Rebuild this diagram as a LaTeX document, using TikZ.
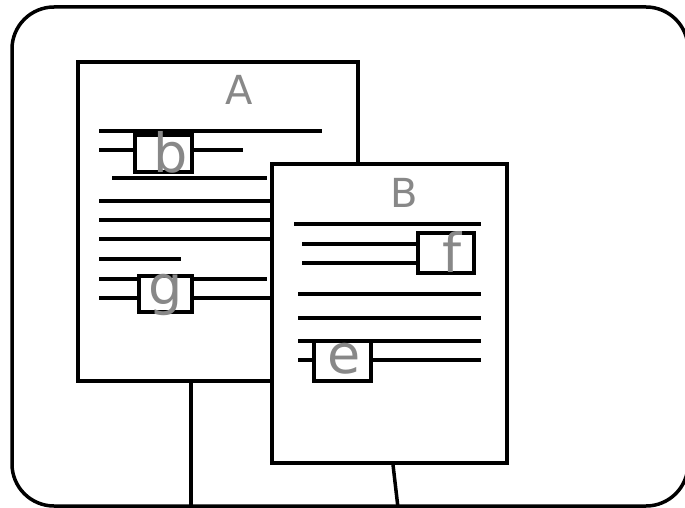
\documentclass[tikz,border=0pt]{standalone}
\usepackage{fontspec}
\setmainfont{DejaVu Sans}
\definecolor{lbl}{HTML}{888888}
\begin{document}
\begin{tikzpicture}[x=1pt,y=-1pt,line width=3.5pt,
  frame/.style={draw,rounded corners=42pt,minimum width=676pt,minimum height=499pt,inner sep=0pt},
  doc/.style={draw,fill=white,inner sep=0pt},
  field/.style={draw,fill=white,inner sep=0pt},
  title/.style={text=lbl,anchor=base,inner sep=0pt,font=\fontsize{40}{40}\selectfont},
  letter/.style={text=lbl,anchor=base,inner sep=0pt,font=\fontsize{54}{54}\selectfont},
  txt/.style={line width=3.5pt}]
\useasboundingbox (0,0) rectangle (685,508);

% outer frame
\node[frame] (F) at (350,256.5) {};

% document A
\node[doc,minimum width=280pt,minimum height=319pt] (A) at (218,221.5) {};
\node[title] (tA) at (239,105) {A};
\draw[txt] (99,131) -- (322,131);
\draw[txt] (99,150) -- (243,150);
\draw[txt] (112,178) -- (267,178);
\draw[txt] (99,201) -- (290,201);
\draw[txt] (99,220) -- (290,220);
\draw[txt] (99,239) -- (290,239);
\draw[txt] (99,259) -- (181,259);
\draw[txt] (99,279) -- (267,279);
\draw[txt] (99,298) -- (290,298);
\node[field,minimum width=57pt,minimum height=37pt] (fb) at (163.5,153.5) {};
\node[letter] (lb) at (171,172) {b};
\node[field,minimum width=53pt,minimum height=36pt] (fg) at (165.5,294) {};
\node[letter] (lg) at (166,304) {g};

% link below A
\coordinate (ax) at (191,0);
\draw (A.south -| ax) -- (F.south -| ax);

% document B
\node[doc,minimum width=235pt,minimum height=299pt] (B) at (389.5,313.5) {};
\node[title] (tB) at (404,207) {B};
\draw[txt] (294,224) -- (481,224);
\draw[txt] (302,244) -- (418,244);
\draw[txt] (302,263) -- (418,263);
\draw[txt] (298,294) -- (481,294);
\draw[txt] (298,318) -- (481,318);
\draw[txt] (298,341) -- (481,341);
\draw[txt] (298,360) -- (481,360);
\node[field,minimum width=56pt,minimum height=40pt] (ff) at (446,253) {};
\node[letter] (lf) at (452,272) {f};
\node[field,minimum width=57pt,minimum height=40pt] (fe) at (342.5,361) {};
\node[letter] (le) at (344,373) {e};

% link below B
\coordinate (b1) at (393,0);
\coordinate (b2) at (398,0);
\draw (B.south -| b1) -- (F.south -| b2);
\end{tikzpicture}
\end{document}
